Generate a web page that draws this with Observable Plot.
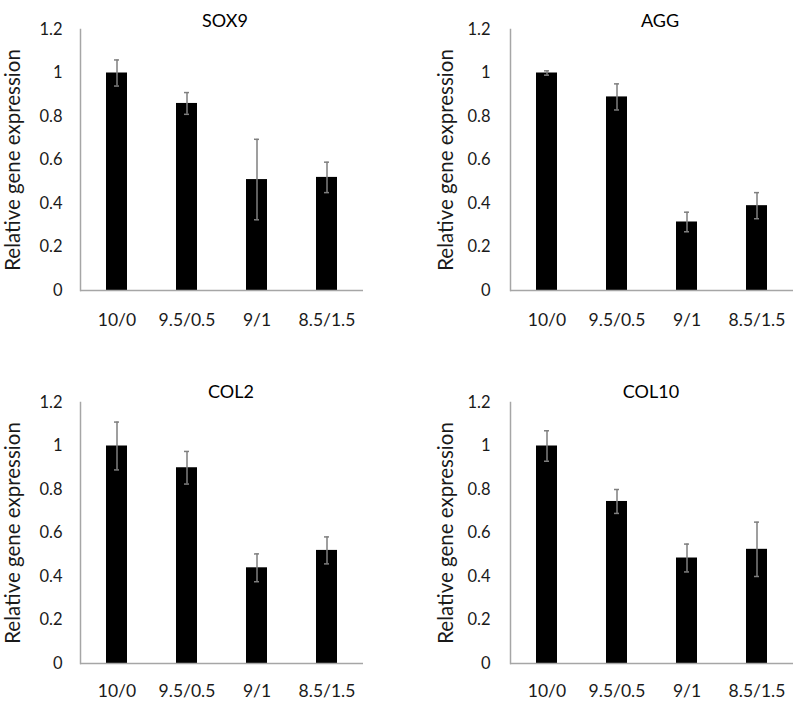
<!DOCTYPE html>
<html><head><meta charset="utf-8">
<script src="https://cdn.jsdelivr.net/npm/d3@7"></script>
<script src="https://cdn.jsdelivr.net/npm/@observablehq/plot@0.6"></script>
<style>
body{margin:0;background:#fff;}
#wrap{position:relative;width:800px;height:707px;overflow:hidden;}
.panel{position:absolute;}
.panel svg{font-family:Lato, "Noto Sans", sans-serif;overflow:visible;}
</style></head><body><div id="wrap"></div>
<script>
const groups = ["10/0", "9.5/0.5", "9/1", "8.5/1.5"];
const genes = ["SOX9", "AGG", "COL2", "COL10"];
const sox9 = [1.00, 0.86, 0.51, 0.52];
const sox9Err = [0.06, 0.05, 0.185, 0.07];
const agg = [1.00, 0.89, 0.315, 0.39];
const aggErr = [0.01, 0.06, 0.045, 0.06];
const col2 = [1.00, 0.90, 0.44, 0.52];
const col2Err = [0.11, 0.075, 0.064, 0.062];
const col10 = [1.00, 0.745, 0.485, 0.525];
const col10Err = [0.07, 0.055, 0.064, 0.125];
const yTicks = [0, 0.2, 0.4, 0.6, 0.8, 1, 1.2];
const yLabel = "Relative gene expression";

const values = [sox9, agg, col2, col10];
const errors = [sox9Err, aggErr, col2Err, col10Err];

const layout = [
  {left: 0,   top: 0,   height: 353, mt: 29, mb: 63, ml: 80,  mr: 37, tdx: 3,  tdy: -15, ypad: 18, ydx: -67, xpad: 23},
  {left: 400, top: 0,   height: 353, mt: 29, mb: 63, ml: 110, mr: 7,  tdx: 8,  tdy: -15, ypad: 20, ydx: -64, xpad: 23},
  {left: 0,   top: 353, height: 354, mt: 49, mb: 44, ml: 80,  mr: 37, tdx: 9,  tdy: -17, ypad: 18, ydx: -67, xpad: 21},
  {left: 400, top: 353, height: 354, mt: 49, mb: 44, ml: 110, mr: 7,  tdx: -1, tdy: -17, ypad: 20, ydx: -64, xpad: 21}
];

const wrap = document.getElementById("wrap");
const axisColor = "#a6a6a6";
const textColor = "#1a1a1a";

genes.forEach((gene, i) => {
  const L = layout[i];
  const data = groups.map((g, j) => ({group: g, value: values[i][j], err: errors[i][j]}));
  const chart = Plot.plot({
    width: 400,
    height: L.height,
    marginTop: L.mt,
    marginBottom: L.mb,
    marginLeft: L.ml,
    marginRight: L.mr,
    style: {color: textColor, background: "#fff", overflow: "visible"},
    x: {domain: groups, paddingInner: 0.693, paddingOuter: 0.3465},
    y: {domain: [0, 1.2]},
    marks: [
      Plot.barY(data, {x: "group", y: "value", fill: "#000"}),
      Plot.ruleX(data, {x: "group", y1: d => d.value - d.err, y2: d => d.value + d.err, stroke: "#7f7f7f", strokeWidth: 1.5}),
      Plot.tickY(data, {x: "group", y: d => d.value + d.err, stroke: "#7f7f7f", strokeWidth: 1.5, insetLeft: 8, insetRight: 8}),
      Plot.tickY(data, {x: "group", y: d => d.value - d.err, stroke: "#7f7f7f", strokeWidth: 1.5, insetLeft: 8, insetRight: 8}),
      Plot.ruleY([0], {stroke: axisColor, strokeWidth: 1.5}),
      Plot.frame({anchor: "left", stroke: axisColor, strokeWidth: 1.5}),
      Plot.axisY({ticks: yTicks, tickSize: 0, tickPadding: L.ypad, fontSize: 16.5, label: null, tickFormat: d => String(d)}),
      Plot.axisX({tickSize: 0, tickPadding: L.xpad, fontSize: 17.5, label: null}),
      Plot.text([yLabel], {frameAnchor: "left", textAnchor: "middle", rotate: -90, dx: L.ydx, fontSize: 20.5, fill: textColor}),
      Plot.text([gene], {frameAnchor: "top", textAnchor: "middle", dx: L.tdx, dy: L.tdy, fontSize: 18, fill: "#000"})
    ]
  });
  const div = document.createElement("div");
  div.className = "panel";
  div.style.left = L.left + "px";
  div.style.top = L.top + "px";
  div.appendChild(chart);
  wrap.appendChild(div);
});
</script>
</body></html>
